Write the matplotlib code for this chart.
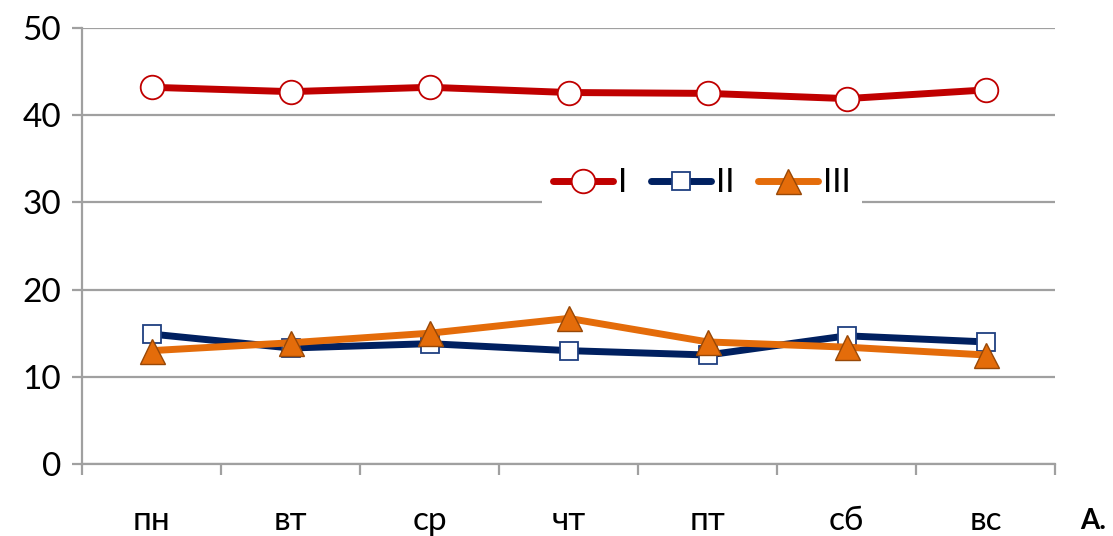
import matplotlib
matplotlib.use("Agg")
import matplotlib.pyplot as plt

days = ["пн", "вт", "ср", "чт", "пт", "сб", "вс"]
series_names = ["I", "II", "III"]
vals_1 = [43.2, 42.7, 43.2, 42.6, 42.5, 41.9, 42.9]
vals_2 = [14.9, 13.3, 13.8, 13.0, 12.5, 14.7, 14.0]
vals_3 = [13.0, 13.9, 15.0, 16.7, 14.0, 13.4, 12.5]
y_ticks = [0, 10, 20, 30, 40, 50]

plt.rcParams["font.family"] = ["Lato", "DejaVu Sans"]

fig = plt.figure(figsize=(11.13, 5.36), dpi=100)
ax = fig.add_axes([0.0737, 0.1343, 0.8745, 0.8135])

x = list(range(len(days)))
grid_col = "#A0A0A0"

# gridlines
for t in y_ticks:
    ax.axhline(t, color=grid_col, lw=1.6, zorder=0)

ax.plot(x, vals_1, color="#C00000", lw=5, marker="o", ms=17, solid_capstyle="round",
        mfc="white", mec="#C00000", mew=1.3, label=series_names[0], zorder=3)
ax.plot(x, vals_2, color="#002060", lw=5, marker="s", ms=13, solid_capstyle="round",
        mfc="white", mec="#1F3F80", mew=1.3, label=series_names[1], zorder=3)
ax.plot(x, vals_3, color="#E46C0A", lw=5, marker="^", ms=18, solid_capstyle="round",
        mfc="#E46C0A", mec="#984807", mew=1.0, label=series_names[2], zorder=4)

ax.set_xlim(-0.5, len(days) - 0.5)
ax.set_ylim(0, 50)

ax.set_yticks(y_ticks)
ax.set_yticklabels([str(t) for t in y_ticks], fontsize=24)
ax.tick_params(axis="y", length=7, width=1.6, color=grid_col, pad=8)

ax.set_xticks([i - 0.5 for i in range(len(days) + 1)])
ax.set_xticklabels([])
ax.set_xticks(x, minor=True)
ax.set_xticklabels(days, minor=True, fontsize=24)
ax.tick_params(axis="x", which="major", length=8, width=1.6, color=grid_col)
ax.tick_params(axis="x", which="minor", length=0, pad=30)

for s in ["top", "right"]:
    ax.spines[s].set_visible(False)
for s in ["left", "bottom"]:
    ax.spines[s].set_color(grid_col)
    ax.spines[s].set_linewidth(1.6)

leg = ax.legend(loc="center", bbox_to_anchor=(0.637, 0.644), ncol=3,
                fontsize=24, frameon=True, fancybox=False, framealpha=1,
                edgecolor="white", handlelength=1.8, handletextpad=0.15,
                columnspacing=0.7, borderpad=0.35)
leg.get_frame().set_linewidth(0)

fig.text(0.982, 0.004, "А.", fontsize=20, fontweight="bold", ha="center", va="bottom")

fig.savefig("out.png", dpi=100)
